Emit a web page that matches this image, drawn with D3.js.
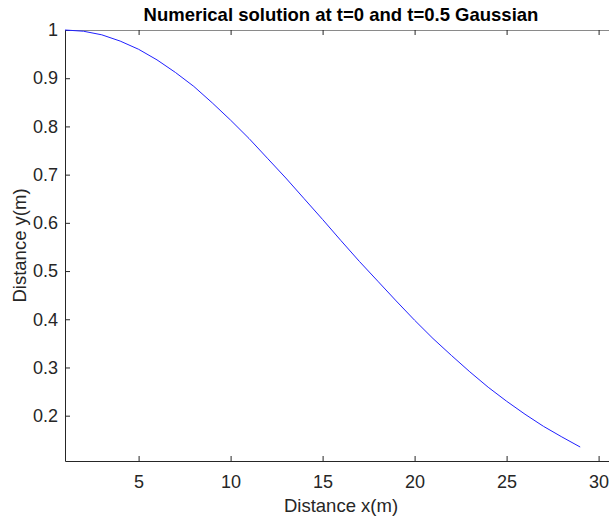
<!DOCTYPE html>
<html>
<head>
<meta charset="utf-8">
<script src="https://cdn.jsdelivr.net/npm/d3@7"></script>
<style>
  body { margin: 0; background: #fff; }
  svg { display: block; font-family: "Liberation Sans", Arial, sans-serif; }
</style>
</head>
<body>
<div id="chart"></div>
<script>
// Chart size and plot box.
const width = 609;
const height = 517;
const margin = { top: 30, right: -8, bottom: 56, left: 65 };

// Data.
const xValues = [1, 2, 3, 4, 5, 6, 7, 8, 9, 10, 11, 12, 13, 14, 15,
  16, 17, 18, 19, 20, 21, 22, 23, 24, 25, 26, 27, 28, 29];
const yValues = [1.000, 0.9975, 0.990, 0.977, 0.960, 0.938, 0.912, 0.883, 0.849, 0.813,
  0.775, 0.734, 0.693, 0.650, 0.607, 0.563, 0.520, 0.479, 0.438, 0.398,
  0.360, 0.325, 0.291, 0.259, 0.230, 0.203, 0.178, 0.156, 0.135];
const xTicks = [5, 10, 15, 20, 25, 30];
const yTicks = [0.2, 0.3, 0.4, 0.5, 0.6, 0.7, 0.8, 0.9, 1];

const data = xValues.map(function(x, i) { return { x: x, y: yValues[i] }; });

const svg = d3.select("#chart")
  .append("svg")
  .attr("width", width)
  .attr("height", height);

const x = d3.scaleLinear()
  .domain([1, 31])
  .range([margin.left, width - margin.right]);

const y = d3.scaleLinear()
  .domain([0.106, 1])
  .range([height - margin.bottom, margin.top]);

const axisColor = "#262626";

// Bottom axis, ticks pointing in.
const gx = svg.append("g")
  .attr("transform", "translate(0," + (height - margin.bottom) + ")")
  .call(d3.axisBottom(x).tickValues(xTicks).tickSizeInner(-5).tickSizeOuter(0).tickPadding(14));

// Top axis ticks, no labels.
const gxTop = svg.append("g")
  .attr("transform", "translate(0," + margin.top + ")")
  .call(d3.axisTop(x).tickValues(xTicks).tickSizeInner(-5).tickSizeOuter(0).tickFormat(""));

// Left axis.
const gy = svg.append("g")
  .attr("transform", "translate(" + margin.left + ",0)")
  .call(d3.axisLeft(y).tickValues(yTicks).tickSizeInner(-5).tickSizeOuter(0).tickPadding(7)
    .tickFormat(d3.format("")));

[gx, gxTop, gy].forEach(function(g) {
  g.attr("font-size", null).attr("font-family", null);
  g.selectAll(".domain").attr("stroke", axisColor);
  g.selectAll(".tick line").attr("stroke", axisColor);
  g.selectAll("text")
    .attr("fill", axisColor)
    .style("font-size", "18px");
});
gxTop.select(".domain").attr("stroke", "#8a8a8a");

// The curve.
const line = d3.line()
  .x(function(d) { return x(d.x); })
  .y(function(d) { return y(d.y); });

svg.append("path")
  .datum(data)
  .attr("fill", "none")
  .attr("stroke", "#2020ff")
  .attr("stroke-width", 1)
  .attr("d", line);

const cx = (margin.left + width - margin.right) / 2;

// Title.
svg.append("text")
  .attr("x", cx)
  .attr("y", 21)
  .attr("text-anchor", "middle")
  .style("font-weight", "bold")
  .style("font-size", "18.5px")
  .attr("fill", "#000")
  .text("Numerical solution at t=0 and t=0.5 Gaussian");

// Axis labels.
svg.append("text")
  .attr("x", cx)
  .attr("y", 512)
  .attr("text-anchor", "middle")
  .style("font-size", "18.5px")
  .attr("fill", axisColor)
  .text("Distance x(m)");

svg.append("text")
  .attr("transform", "rotate(-90)")
  .attr("x", -(margin.top + height - margin.bottom) / 2)
  .attr("y", 26)
  .attr("text-anchor", "middle")
  .style("font-size", "18.5px")
  .attr("fill", axisColor)
  .text("Distance y(m)");
</script>
</body>
</html>
